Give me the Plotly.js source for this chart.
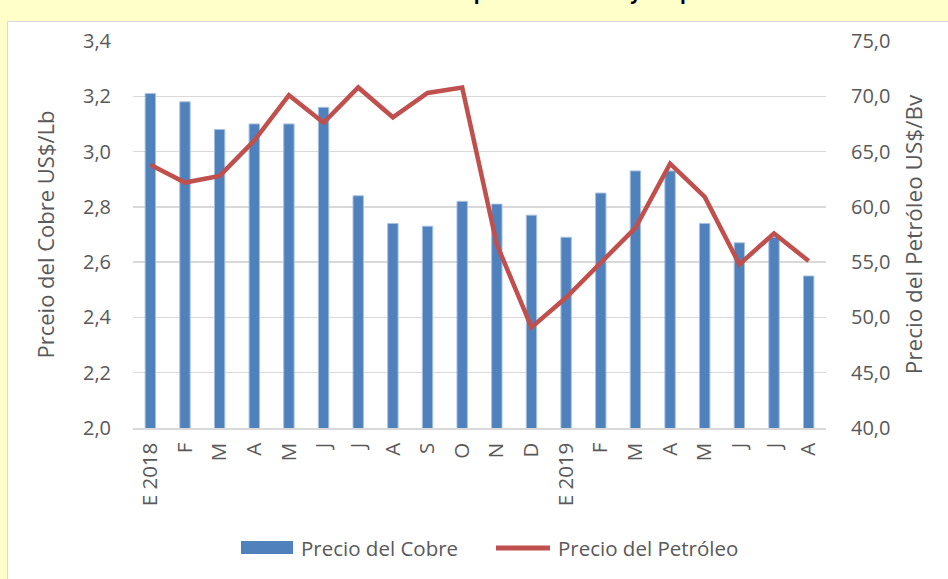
<!DOCTYPE html>
<html>
<head>
<meta charset="utf-8">
<script src="https://cdn.plot.ly/plotly-3.0.1.min.js"></script>
<style>
  html, body { margin: 0; padding: 0; background: #FFFFC9; }
  #frame { position: absolute; left: 7px; top: 21px; width: 945px; height: 562px; background: #ffffff; border: 1px solid #d9d9d9; box-sizing: border-box; }
  #chart { position: absolute; left: 0; top: 0; width: 948px; height: 579px; }
</style>
</head>
<body>
<div id="frame"></div>
<div id="chart"></div>
<script>
const monthIndex = [0,1,2,3,4,5,6,7,8,9,10,11,12,13,14,15,16,17,18,19];
const monthLabels = ["E 2018","F","M","A","M","J","J","A","S","O","N","D","E 2019","F","M","A","M","J","J","A"];
const copperPrice = [3.21,3.18,3.08,3.10,3.10,3.16,2.84,2.74,2.73,2.82,2.81,2.77,2.69,2.85,2.93,2.93,2.74,2.67,2.69,2.55];
const oilPrice = [63.8,62.2,62.8,66.0,70.1,67.6,70.8,68.1,70.3,70.8,56.6,49.1,51.8,55.0,58.1,63.9,60.9,54.8,57.6,55.1];
const seriesNames = ["Precio del Cobre", "Precio del Petróleo"];
const seriesColors = ["#4F81BD", "#C0504D"];

const grey = "#595959";
const tickFont = {family: "Open Sans, sans-serif", size: 20, color: grey};
const legendFont = {family: "Open Sans, sans-serif", size: 20.5, color: grey};

const traces = [
  {
    type: "bar",
    name: seriesNames[0],
    x: monthIndex,
    y: copperPrice,
    width: 0.3,
    marker: {color: seriesColors[0], line: {color: "#A7C0DE", width: 1}},
    yaxis: "y",
    showlegend: false
  },
  {
    type: "scatter",
    mode: "lines",
    name: seriesNames[1],
    x: monthIndex,
    y: oilPrice,
    line: {color: seriesColors[1], width: 4.5},
    yaxis: "y2",
    showlegend: false
  }
];

const layout = {
  width: 948,
  height: 579,
  paper_bgcolor: "rgba(0,0,0,0)",
  plot_bgcolor: "rgba(0,0,0,0)",
  margin: {l: 133, r: 122, t: 41, b: 151},
  showlegend: false,
  xaxis: {
    range: [-0.5, 19.5],
    tickmode: "array",
    tickvals: monthIndex,
    ticktext: monthLabels,
    tickangle: -90,
    tickfont: {family: "Open Sans, sans-serif", size: 20.5, color: grey},
    ticklabelstandoff: 5,
    showgrid: false,
    zeroline: false,
    showline: true,
    linecolor: "#d9d9d9",
    linewidth: 1.5,
    ticks: "",
    automargin: false
  },
  yaxis: {
    range: [2.0, 3.4],
    dtick: 0.2,
    tick0: 2.0,
    tickformat: ".1f",
    tickfont: tickFont,
    ticklabelstandoff: 21,
    gridcolor: "#d9d9d9",
    gridwidth: 1.5,
    zeroline: false,
    ticks: "",
    title: {text: "Prceio del Cobre US$/Lb", font: {family: "Open Sans, sans-serif", size: 22, color: grey}, standoff: 22},
    automargin: false
  },
  yaxis2: {
    overlaying: "y",
    side: "right",
    range: [40, 75],
    dtick: 5,
    tick0: 40,
    tickformat: ".1f",
    tickfont: tickFont,
    ticklabelstandoff: 24,
    showgrid: false,
    zeroline: false,
    ticks: "",
    title: {text: "Precio del Petróleo US$/Bv", font: {family: "Open Sans, sans-serif", size: 22.5, color: grey}, standoff: 16},
    automargin: false
  },
  separators: ",.",
  shapes: [
    {type: "rect", xref: "paper", yref: "paper", x0: 0.1558, x1: 0.2309, y0: -0.3256, y1: -0.2920,
     fillcolor: seriesColors[0], line: {width: 0}},
    {type: "line", xref: "paper", yref: "paper", x0: 0.5238, x1: 0.6017, y0: -0.3101, y1: -0.3101,
     line: {color: seriesColors[1], width: 5}}
  ],
  annotations: [
    {text: "<b>Evolución mensual del precio del cobre y del petróleo</b>", xref: "paper", yref: "paper",
     x: 0.5426, xanchor: "center", y: 1.0879, yanchor: "bottom", showarrow: false,
     font: {family: "Open Sans, sans-serif", size: 19, color: "#000000"}},
    {text: seriesNames[0], xref: "paper", yref: "paper", x: 0.2395, xanchor: "left", y: -0.3101, yanchor: "middle",
     showarrow: false, font: legendFont},
    {text: seriesNames[1], xref: "paper", yref: "paper", x: 0.6104, xanchor: "left", y: -0.3101, yanchor: "middle",
     showarrow: false, font: legendFont}
  ]
};

Plotly.newPlot("chart", traces, layout, {displayModeBar: false, staticPlot: true});
</script>
</body>
</html>
